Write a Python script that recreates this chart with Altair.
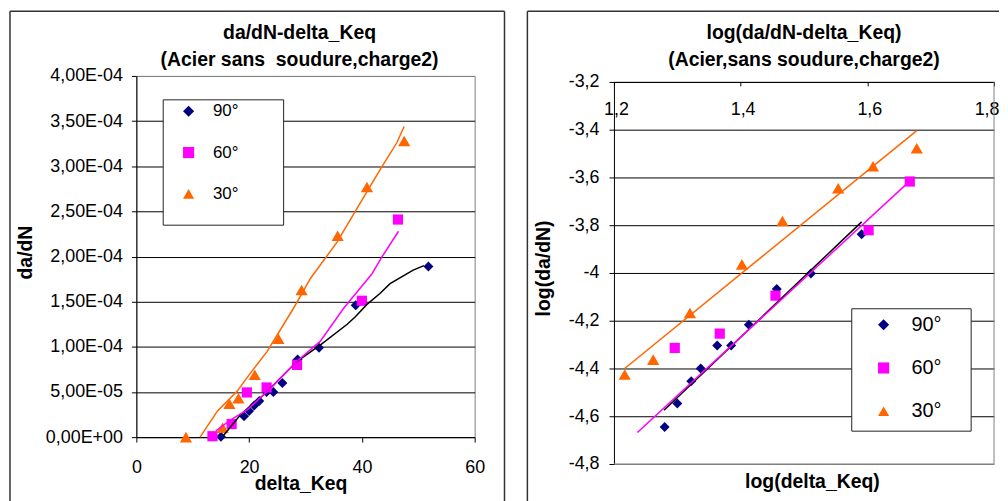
import json
import altair as alt
import pandas as pd

FONT = "Liberation Sans"
SERIES = ["90°", "60°", "30°"]
POINT_COLORS = ["#000080", "#FF00FF", "#FF6600"]
SHAPES = ["diamond", "square", "triangle-up"]
SIZES = [100, 105, 150]

# ---------------- Left panel: da/dN vs delta_Keq ----------------
L_TITLE = ["da/dN-delta_Keq", "(Acier sans\u00a0 soudure,charge2)"]
L90_X = [15.0, 19.1, 20.0, 20.9, 21.8, 23.1, 24.3, 25.9, 28.6, 32.4, 38.9, 51.8]
L90_Y = [0.05e-5, 2.3e-5, 2.9e-5, 3.5e-5, 4.0e-5, 5.0e-5, 5.0e-5, 6.0e-5, 8.6e-5, 9.9e-5, 1.46e-4, 1.89e-4]
L60_X = [13.5, 16.9, 19.6, 23.1, 28.5, 40.0, 46.4]
L60_Y = [0.1e-5, 1.45e-5, 4.95e-5, 5.5e-5, 8.0e-5, 1.51e-4, 2.41e-4]
L30_X = [8.8, 15.3, 16.5, 18.1, 21.0, 25.2, 29.3, 35.7, 40.9, 47.5]
L30_Y = [0.0, 1.05e-5, 3.7e-5, 4.3e-5, 6.9e-5, 1.09e-4, 1.63e-4, 2.23e-4, 2.77e-4, 3.28e-4]

# trend curves (left)
LT90_X = [15.5, 18.5, 22.6, 28.5, 32.6, 37.4, 38.8, 40.9, 43.2, 45.0, 49.1, 51.0]
LT90_Y = [0.2e-5, 2.5e-5, 4.7e-5, 8.4e-5, 1.02e-4, 1.25e-4, 1.33e-4, 1.47e-4, 1.59e-4, 1.70e-4, 1.85e-4, 1.90e-4]
LT60_X = [14.1, 16.8, 19.7, 23.8, 28.5, 32.6, 36.8, 41.8, 43.5, 46.5]
LT60_Y = [0.7e-5, 1.95e-5, 3.05e-5, 5.4e-5, 8.4e-5, 1.06e-4, 1.43e-4, 1.81e-4, 1.99e-4, 2.28e-4]
LT30_X = [11.3, 14.4, 17.9, 20.0, 23.2, 27.9, 30.9, 35.6, 39.4, 43.5, 46.2, 47.5]
LT30_Y = [0.0, 2.9e-5, 5.1e-5, 6.9e-5, 9.5e-5, 1.43e-4, 1.76e-4, 2.16e-4, 2.56e-4, 2.99e-4, 3.26e-4, 3.44e-4]

LX_TICKS = [0, 20, 40, 60]
LY_TICKS = [0, 5e-5, 1e-4, 1.5e-4, 2e-4, 2.5e-4, 3e-4, 3.5e-4, 4e-4]
LY_LABELS = ["0,00E+00", "5,00E-05", "1,00E-04", "1,50E-04", "2,00E-04",
             "2,50E-04", "3,00E-04", "3,50E-04", "4,00E-04"]

# ---------------- Right panel: log(da/dN) vs log(delta_Keq) ----------------
R_TITLE = ["log(da/dN-delta_Keq)", "(Acier,sans soudure,charge2)"]
R90_X = [1.280, 1.300, 1.322, 1.337, 1.363, 1.385, 1.413, 1.457, 1.511, 1.591]
R90_Y = [-4.645, -4.547, -4.453, -4.400, -4.304, -4.304, -4.217, -4.067, -4.002, -3.838]
R60_X = [1.296, 1.367, 1.455, 1.602, 1.667]
R60_Y = [-4.314, -4.254, -4.095, -3.821, -3.617]
R30_X = [1.217, 1.262, 1.320, 1.402, 1.466, 1.554, 1.609, 1.678]
R30_Y = [-4.425, -4.363, -4.168, -3.964, -3.782, -3.645, -3.553, -3.478]

# linear trend lines (right)
RT90_X = [1.279, 1.591]
RT90_Y = [-4.575, -3.786]
RT60_X = [1.237, 1.663]
RT60_Y = [-4.668, -3.625]
RT30_X = [1.217, 1.678]
RT30_Y = [-4.400, -3.404]

RX_TICKS = [1.2, 1.4, 1.6, 1.8]
RY_TICKS = [-4.8, -4.6, -4.4, -4.2, -4.0, -3.8, -3.6, -3.4, -3.2]

LINE_COLORS = ["#000000", "#FF00FF", "#FF6600"]

ONE = pd.DataFrame({"k": [0]})
TICK_FS = 18
TITLE_FS = 19.5


def rule(x1, x2, y1, y2, color="#333333", w=1.5):
    return alt.Chart(ONE).mark_rule(color=color, strokeWidth=w).encode(
        x=alt.value(x1), x2=alt.value(x2), y=alt.value(y1), y2=alt.value(y2))


def box(x1, x2, y1, y2):
    return alt.Chart(ONE).mark_rect(fill="white", stroke="#222222", strokeWidth=1).encode(
        x=alt.value(x1), x2=alt.value(x2), y=alt.value(y1), y2=alt.value(y2))


def title_text(txt, x, y):
    return alt.Chart(ONE).mark_text(
        font=FONT, fontSize=TITLE_FS, fontWeight="bold", color="black",
        align="center", baseline="alphabetic").encode(
        x=alt.value(x), y=alt.value(y), text=alt.value(txt))


def make_legend(lx, ly, fs, row_pad, label_off):
    return alt.Legend(title=None, orient="none", legendX=lx, legendY=ly,
                      labelFont=FONT, labelFontSize=fs, labelColor="black",
                      symbolStrokeWidth=0, symbolOpacity=1, symbolSize=125,
                      rowPadding=row_pad, labelOffset=label_off, padding=0)


def point_layers(xs_list, ys_list, leg, x_enc, y_enc):
    layers = []
    for s, xs, ys, size in zip(SERIES, xs_list, ys_list, SIZES):
        df = pd.DataFrame({"s": [s] * len(xs), "x": xs, "y": ys})
        layers.append(alt.Chart(df).mark_point(
            filled=True, opacity=1, strokeWidth=0, size=size).encode(
            x=x_enc, y=y_enc,
            color=alt.Color("s:N", scale=alt.Scale(domain=SERIES, range=POINT_COLORS), legend=leg),
            shape=alt.Shape("s:N", scale=alt.Scale(domain=SERIES, range=SHAPES), legend=leg),
        ))
    return layers


def line_layer(xs, ys, color, x_enc, y_enc):
    return alt.Chart(pd.DataFrame({"x": xs, "y": ys})).mark_line(
        color=color, strokeWidth=1.5).encode(x=x_enc, y=y_enc)


# ---------------- Left chart ----------------
W1, H1 = 340, 363
xL = alt.X("x:Q", scale=alt.Scale(domain=[0, 60], nice=False, zero=False),
           axis=alt.Axis(values=LX_TICKS, title="delta_Keq", grid=False,
                         labelFontSize=TICK_FS, tickSize=5, labelPadding=17,
                         titleX=165, titleY=53, titleBaseline="alphabetic",
                         titleAlign="center", titleFontSize=TITLE_FS))
yL = alt.Y("y:Q", scale=alt.Scale(domain=[0, 4e-4], nice=False, zero=False),
           axis=alt.Axis(values=LY_TICKS, title="da/dN", grid=True,
                         gridColor=alt.condition("datum.value > 3.9e-4", alt.value("#808080"), alt.value("#000000")),
                         labelExpr=json.dumps(LY_LABELS) + "[round(datum.value / 5e-5)]",
                         labelFontSize=TICK_FS, tickSize=5, labelPadding=9,
                         titleX=-111, titleY=177, titleBaseline="middle",
                         titleAlign="center", titleAngle=270, titleFontSize=TITLE_FS))

left = alt.layer(
    rule(-127, 370, -65, -65),
    rule(-127, -127, -65, 445),
    rule(370, 370, -65, 445),
    title_text(L_TITLE[0], 164, -37),
    title_text(L_TITLE[1], 164, -10),
    box(27, 148, 24, 150),
    *point_layers([L90_X, L60_X, L30_X], [L90_Y, L60_Y, L30_Y],
                  make_legend(44, 27, 17, 23.5, 16), xL, yL),
    line_layer(LT90_X, LT90_Y, LINE_COLORS[0], xL, yL),
    line_layer(LT60_X, LT60_Y, LINE_COLORS[1], xL, yL),
    line_layer(LT30_X, LT30_Y, LINE_COLORS[2], xL, yL),
).properties(width=W1, height=H1)

# ---------------- Right chart ----------------
# view spans 73..463 on the page; the plot itself starts 6px lower (79)
W2, H2, TOP2 = 382, 390, 6
xR = alt.X("x:Q", scale=alt.Scale(domain=[1.2, 1.8], nice=False, zero=False),
           axis=alt.Axis(values=RX_TICKS, title="log(delta_Keq)", grid=False, orient="bottom",
                         offset=-(H2 - TOP2), labelExpr="replace(toString(datum.value), '.', ',')",
                         labelFontSize=TICK_FS, tickSize=4, labelPadding=15,
                         labelAlign=alt.condition("datum.value > 1.7", alt.value("right"), alt.value("center")),
                         labelOffset=alt.condition("datum.value > 1.7", alt.value(5), alt.value(2)),
                         titleX=199, titleY=408, titleBaseline="alphabetic",
                         titleAlign="center", titleFontSize=TITLE_FS))
yR = alt.Y("y:Q", scale=alt.Scale(domain=[-4.8, -3.2], range=[H2, TOP2], nice=False, zero=False),
           axis=alt.Axis(values=RY_TICKS, title="log(da/dN)", grid=True,
                         gridColor=alt.condition("datum.value < -4.75", alt.value("#808080"), alt.value("#000000")),
                         labelExpr="replace(toString(datum.value), '.', ',')",
                         labelFontSize=TICK_FS, tickSize=5, labelPadding=10,
                         titleX=-71, titleY=193, titleBaseline="middle",
                         titleAlign="center", titleAngle=270, titleFontSize=TITLE_FS))

right = alt.layer(
    rule(-87, 387, -65, -65),
    rule(-87, -87, -65, 446),
    rule(W2, W2, TOP2, H2, color="#808080", w=1),
    rule(0, W2, H2, H2, color="#808080", w=1),
    title_text(R_TITLE[0], 191, -37),
    title_text(R_TITLE[1], 191, -10),
    box(239, 359, 234, 357),
    *point_layers([R90_X, R60_X, R30_X], [R90_Y, R60_Y, R30_Y],
                  make_legend(261, 240, 20, 23.5, 18), xR, yR),
    line_layer(RT90_X, RT90_Y, LINE_COLORS[0], xR, yR),
    line_layer(RT60_X, RT60_Y, LINE_COLORS[1], xR, yR),
    line_layer(RT30_X, RT30_Y, LINE_COLORS[2], xR, yR),
).properties(width=W2, height=H2, view=alt.ViewBackground(strokeOpacity=0))

chart = alt.hconcat(left, right, spacing=20).resolve_scale(
    x="independent", y="independent", color="independent", shape="independent"
).resolve_legend(color="independent", shape="independent").properties(
    padding=0, background="white"
).configure_view(
    stroke="#808080", strokeWidth=1
).configure_axis(
    labelFont=FONT, titleFont=FONT, labelColor="black", titleColor="black",
    domainColor="#000000", tickColor="#000000", labelFlush=False, labelOverlap=False,
    titleFontWeight="bold", gridWidth=1, domainWidth=1,
)

chart.save("out.html", embed_options={"renderer": "svg", "actions": False})
